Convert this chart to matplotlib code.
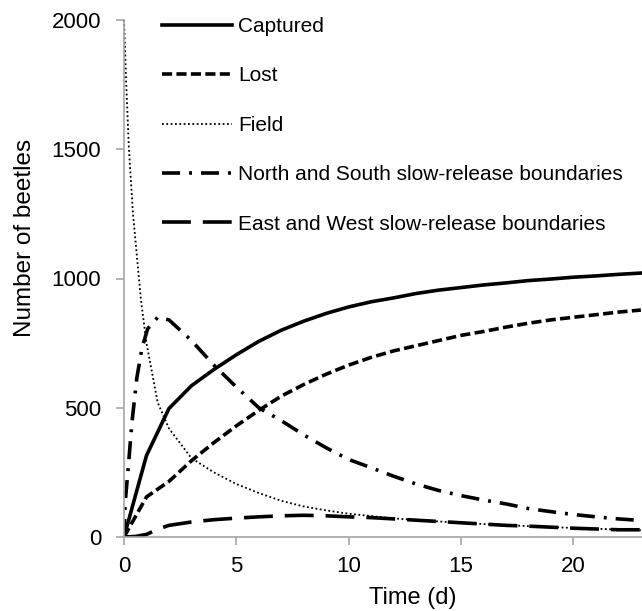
import matplotlib.pyplot as plt

plt.rcParams['font.family'] = ['Liberation Sans', 'DejaVu Sans']

# time points (days) and series values
days = list(range(0, 24))
captured = [0, 315, 497, 585, 648, 705, 757, 800, 835, 865, 890, 910,
            925, 942, 955, 965, 975, 983, 992, 998, 1005, 1010, 1016, 1021]
lost = [0, 155, 215, 295, 365, 430, 490, 545, 590, 630, 665, 695,
        720, 740, 760, 780, 795, 812, 827, 840, 850, 860, 870, 878]

field_t = [0, 0.1, 0.22, 0.4, 0.57, 0.75, 1, 1.5, 2, 3, 4, 5, 6, 7, 8, 9, 10,
           12, 14, 16, 18, 20, 23]
field = [2000, 1750, 1500, 1250, 1090, 920, 750, 520, 420, 305, 250, 205, 170,
         140, 118, 103, 90, 72, 60, 50, 42, 35, 26]

ns_t = [0, 0.05, 0.2, 0.35, 0.57, 0.8, 1.05, 1.5, 2, 3, 4, 5, 6, 7, 8, 9, 10,
        11, 12, 13, 14, 15, 16, 17, 18, 19, 20, 21, 22, 23]
ns = [0, 130, 280, 440, 615, 730, 805, 850, 840, 760, 665, 580, 500, 450, 395,
      345, 300, 268, 235, 205, 180, 160, 143, 128, 110, 98, 87, 78, 70, 64]

ew_t = [0, 0.5, 1, 1.5, 2, 3, 4, 5, 6, 7, 8, 9, 10, 11, 12, 13, 14, 15, 16,
        17, 18, 19, 20, 21, 22, 23]
ew = [0, 2, 10, 30, 45, 58, 67, 73, 78, 82, 84, 82, 78, 75, 70, 65, 60, 55,
      50, 45, 42, 38, 34, 31, 28, 28]

fig = plt.figure(figsize=(6.42, 6.11), dpi=100)
ax = fig.add_axes([124 / 642, 74 / 611, 518 / 642, 517 / 611])

lw = 2.6
ax.plot(days, captured, color='black', lw=lw, label='Captured')
ax.plot(days, lost, color='black', lw=lw, dashes=(2.8, 1.2), label='Lost')
ax.plot(field_t, field, color='black', lw=1.3, dashes=(1, 1.4), label='Field',
        clip_on=False)
ax.plot(ns_t, ns, color='black', lw=lw, dashes=(5, 2.5, 0.8, 2.5),
        label='North and South slow-release boundaries')
ax.plot(ew_t, ew, color='black', lw=lw, dashes=(8, 3.3),
        label='East and West slow-release boundaries')

ax.set_xlim(0, 23.05)
ax.set_ylim(0, 2000)
ax.set_xticks([0, 5, 10, 15, 20])
ax.set_yticks([0, 500, 1000, 1500, 2000])

for s in ['top', 'right']:
    ax.spines[s].set_visible(False)
for s in ['left', 'bottom']:
    ax.spines[s].set_color('#a6a6a6')
    ax.spines[s].set_linewidth(1.2)
ax.tick_params(direction='out', length=5.5, width=1.2, color='#a6a6a6',
               labelsize=16)
ax.tick_params(axis='y', pad=11)
ax.tick_params(axis='x', pad=8)

ax.set_xlabel('Time (d)', fontsize=17)
ax.set_ylabel('Number of beetles', fontsize=17.5)
ax.xaxis.set_label_coords(0.558, -0.097)
ax.yaxis.set_label_coords(-0.17, 0.578)

ax.legend(loc='upper left', bbox_to_anchor=(162 / 642, 1 - 17 / 611),
          bbox_transform=fig.transFigure, frameon=False, fontsize=15,
          handlelength=3.37, handletextpad=0.29, labelspacing=1.46,
          borderpad=0, borderaxespad=0)

plt.savefig('out.png', dpi=100)
